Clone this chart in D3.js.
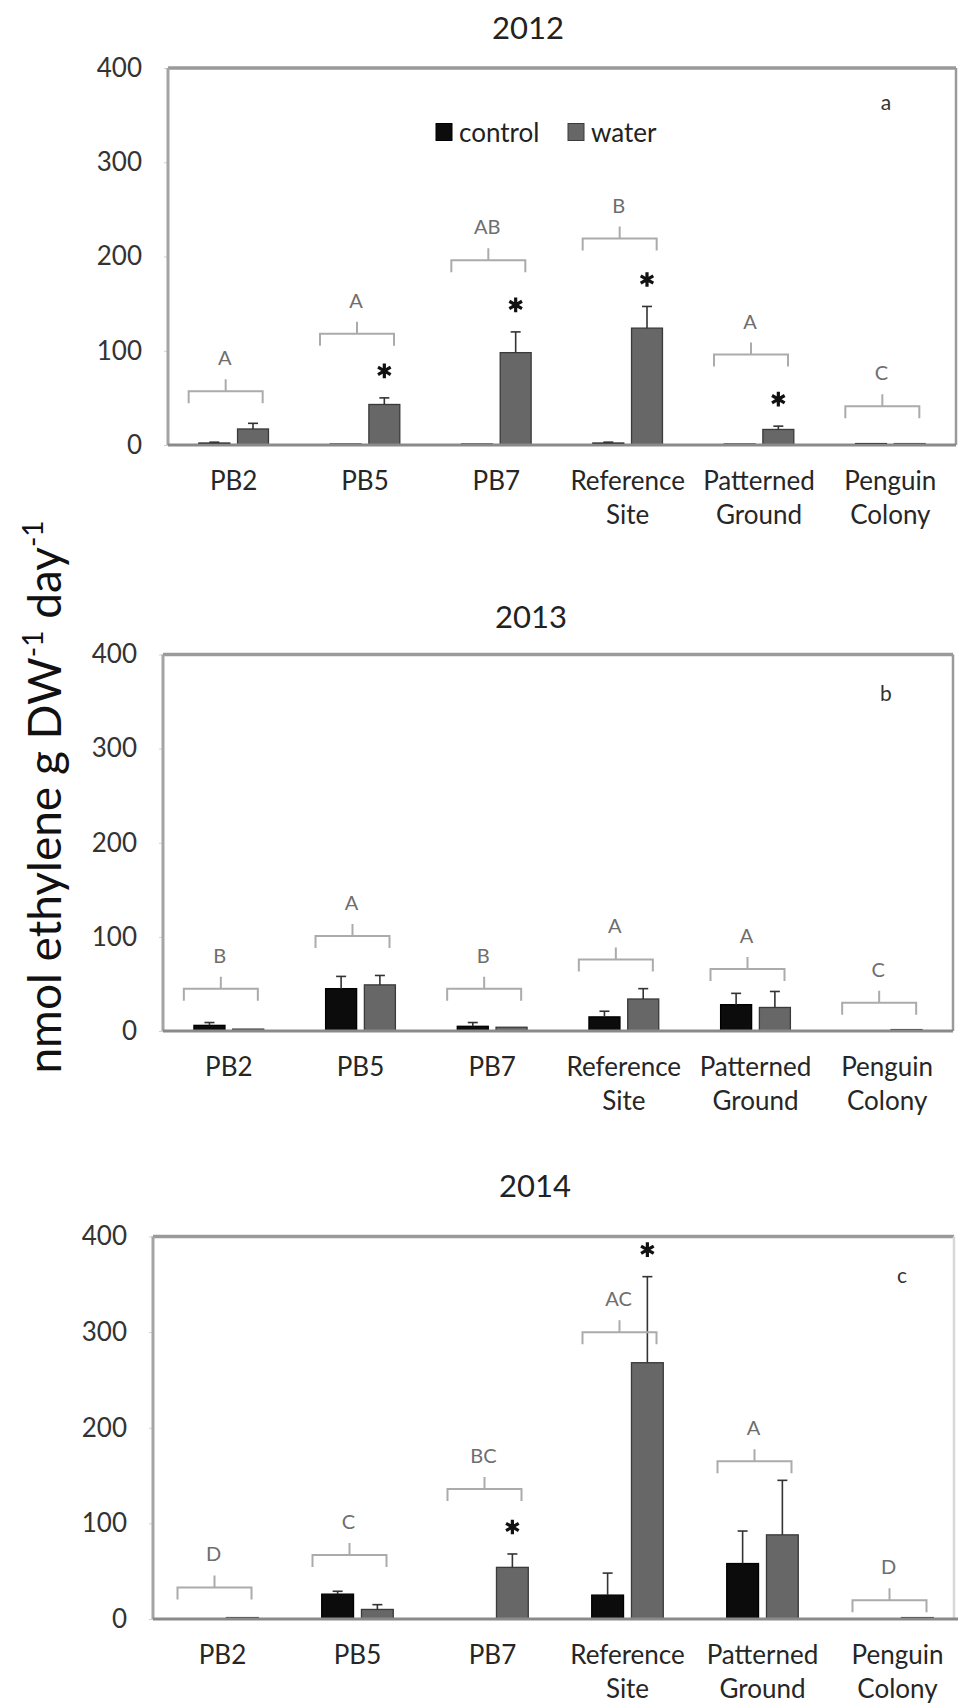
<!DOCTYPE html>
<html>
<head>
<meta charset="utf-8">
<script src="https://cdn.jsdelivr.net/npm/d3@7"></script>
<style>
  html, body { margin: 0; padding: 0; background: #fff; }
  svg { display: block; font-family: Lato, "Open Sans", sans-serif; }
</style>
</head>
<body>
<svg id="chart" width="958" height="1706"></svg>
<script>
// Nitrogenase activity (acetylene reduction), mean + SE, per site and year
const categories = ["PB2", "PB5", "PB7", "Reference Site", "Patterned Ground", "Penguin Colony"];
const series = ["control", "water"];
const years = ["2012", "2013", "2014"];
const panelTags = ["a", "b", "c"];
const yTicks = [0, 100, 200, 300, 400];

const control2012 = [2, 1, 1, 2, 1, 1.5];
const controlErr2012 = [1, 0, 0, 1, 0, 0];
const water2012 = [17, 43, 98, 124, 16.5, 1.5];
const waterErr2012 = [6, 7, 22, 23, 3.5, 0];
const letters2012 = ["A", "A", "AB", "B", "A", "C"];
const bracketLevel2012 = [57, 118, 196, 219, 96, 41];
const stars2012 = [false, true, true, true, true, false];

const control2013 = [6, 45, 5, 15, 28, 0];
const controlErr2013 = [3, 13, 4, 6, 12, 0];
const water2013 = [2, 49, 4, 34, 25, 1.5];
const waterErr2013 = [0, 10, 0, 11, 17, 0];
const letters2013 = ["B", "A", "B", "A", "A", "C"];
const bracketLevel2013 = [45, 101, 45, 76, 66, 30];
const stars2013 = [false, false, false, false, false, false];

const control2014 = [0, 26, 0, 25, 58, 0];
const controlErr2014 = [0, 3, 0, 23, 34, 0];
const water2014 = [1.5, 10, 54, 268, 88, 1.5];
const waterErr2014 = [0, 5, 14, 90, 57, 0];
const letters2014 = ["D", "C", "BC", "AC", "A", "D"];
const bracketLevel2014 = [33, 67, 136, 300, 165, 19.5];
const stars2014 = [false, false, true, true, false, false];

const panelData = [
  { control: control2012, controlErr: controlErr2012, water: water2012, waterErr: waterErr2012,
    letters: letters2012, level: bracketLevel2012, stars: stars2012 },
  { control: control2013, controlErr: controlErr2013, water: water2013, waterErr: waterErr2013,
    letters: letters2013, level: bracketLevel2013, stars: stars2013 },
  { control: control2014, controlErr: controlErr2014, water: water2014, waterErr: waterErr2014,
    letters: letters2014, level: bracketLevel2014, stars: stars2014 }
];

// Page layout of the three stacked panels
const layout = [
  { left: 168, right: 956, bandLeft: 168, bandRight: 956, top: 68,   zero: 445,  titleX: 528, titleY: 39,   tagX: 886, tagY: 105, rightStroke: "#9a9a9a" },
  { left: 163, right: 953, bandLeft: 163, bandRight: 953, top: 654.5, zero: 1031, titleX: 531, titleY: 628,  tagX: 886, tagY: 696, rightStroke: "#9a9a9a" },
  { left: 153, right: 954, bandLeft: 155, bandRight: 965, top: 1236.5, zero: 1619, titleX: 535, titleY: 1197, tagX: 902, tagY: 1278, rightStroke: "#d8d8d8" }
];

const colors = { control: "#0c0c0c", water: "#676767" };
const barStroke = { control: "#000", water: "#3a3a3a" };

const svg = d3.select("#chart");

layout.forEach((L, pi) => {
  const D = panelData[pi];
  const g = svg.append("g");

  const x = d3.scaleBand().domain(categories).range([L.bandLeft, L.bandRight]).padding(0);
  const bw = x.bandwidth();
  const xs = d3.scaleBand().domain(series)
    .range([bw * 0.235, bw * 0.765]).paddingInner(0.2).paddingOuter(0);
  const y = d3.scaleLinear().domain([0, 400]).range([L.zero, L.top]);

  // title
  g.append("text").attr("x", L.titleX).attr("y", L.titleY)
    .attr("text-anchor", "middle").attr("font-size", 31).attr("fill", "#222")
    .text(years[pi]);

  // y axis tick labels
  const yAxis = d3.axisLeft(y).tickValues(yTicks).tickSize(4).tickPadding(22);
  const ya = g.append("g").attr("transform", `translate(${L.left},0)`).call(yAxis);
  ya.select(".domain").remove();
  ya.selectAll(".tick line").attr("stroke", "#d0d0d0");
  ya.selectAll(".tick text").attr("font-size", 26).attr("fill", "#333")
    .attr("font-family", "Lato, 'Open Sans', sans-serif");

  // frame: top, left, right
  g.append("line").attr("x1", L.left).attr("x2", L.right).attr("y1", L.top).attr("y2", L.top)
    .attr("stroke", "#9a9a9a").attr("stroke-width", 3.5);
  g.append("line").attr("x1", L.left).attr("x2", L.left).attr("y1", L.top).attr("y2", L.zero)
    .attr("stroke", "#a4a4a4").attr("stroke-width", 3);
  g.append("line").attr("x1", L.right).attr("x2", L.right).attr("y1", L.top).attr("y2", L.zero)
    .attr("stroke", L.rightStroke).attr("stroke-width", 2.5);

  // bars
  const rows = categories.map((c, i) => ({
    cat: c,
    vals: series.map(s => ({ s, v: D[s][i], e: D[s + "Err"][i] }))
  }));
  const grp = g.selectAll("g.cat").data(rows).join("g")
    .attr("class", "cat").attr("transform", d => `translate(${x(d.cat)},0)`);

  grp.selectAll("rect").data(d => d.vals.filter(o => o.v > 0)).join("rect")
    .attr("x", o => xs(o.s)).attr("width", xs.bandwidth())
    .attr("y", o => y(o.v)).attr("height", o => y(0) - y(o.v))
    .attr("fill", o => colors[o.s]).attr("stroke", o => barStroke[o.s]).attr("stroke-width", 1.3);

  // upper error bars
  const eb = grp.selectAll("g.err").data(d => d.vals.filter(o => o.e > 0)).join("g").attr("class", "err");
  eb.append("line")
    .attr("x1", o => xs(o.s) + xs.bandwidth() / 2).attr("x2", o => xs(o.s) + xs.bandwidth() / 2)
    .attr("y1", o => y(o.v)).attr("y2", o => y(o.v + o.e))
    .attr("stroke", "#333").attr("stroke-width", 1.6);
  eb.append("line")
    .attr("x1", o => xs(o.s) + xs.bandwidth() / 2 - 5).attr("x2", o => xs(o.s) + xs.bandwidth() / 2 + 5)
    .attr("y1", o => y(o.v + o.e)).attr("y2", o => y(o.v + o.e))
    .attr("stroke", "#333").attr("stroke-width", 1.6);

  // x axis baseline
  g.append("line").attr("x1", L.left).attr("x2", Math.max(L.right, L.bandRight)).attr("y1", L.zero).attr("y2", L.zero)
    .attr("stroke", "#8a8a8a").attr("stroke-width", 3);

  // significance stars over the water bars
  const star = d3.symbol().type(d3.symbolAsterisk).size(150);
  categories.forEach((c, i) => {
    if (!D.stars[i]) return;
    const cx = x(c) + xs("water") + xs.bandwidth() / 2;
    const cy = y(D.water[i] + D.waterErr[i]) - 27;
    g.append("path").attr("d", star()).attr("transform", `translate(${cx},${cy})`)
      .attr("stroke", "#111").attr("stroke-width", 3.2).attr("fill", "none");
  });

  // group letters with brackets
  categories.forEach((c, i) => {
    const cx = x(c) + bw / 2 - 8;
    const by = y(D.level[i]);
    const half = 37;
    g.append("path")
      .attr("d", `M${cx - half},${by + 12}V${by}H${cx + half}V${by + 12}M${cx},${by}V${by - 12}`)
      .attr("fill", "none").attr("stroke", "#ababab").attr("stroke-width", 2);
    g.append("text").attr("x", cx - 1).attr("y", by - 26)
      .attr("text-anchor", "middle").attr("font-size", 20).attr("fill", "#6e6e6e")
      .text(D.letters[i]);
  });

  // category labels (two lines where the name has two words)
  categories.forEach(c => {
    const t = g.append("text").attr("text-anchor", "middle").attr("font-size", 26).attr("fill", "#262626");
    c.split(" ").forEach((w, k) => {
      t.append("tspan").attr("x", x(c) + bw / 2).attr("y", L.zero + 45 + k * 34).text(w);
    });
  });

  // panel tag
  g.append("text").attr("x", L.tagX).attr("y", L.tagY).attr("text-anchor", "middle")
    .attr("dominant-baseline", "middle").attr("font-size", 21).attr("fill", "#333")
    .text(panelTags[pi]);

  // legend in the first panel
  if (pi === 0) {
    const leg = g.append("g").attr("transform", "translate(436,132)");
    const items = [{ s: "control", dx: 0 }, { s: "water", dx: 132 }];
    items.forEach(it => {
      leg.append("rect").attr("x", it.dx).attr("y", -8.5).attr("width", 16).attr("height", 17)
        .attr("fill", colors[it.s]).attr("stroke", barStroke[it.s]).attr("stroke-width", 1);
      leg.append("text").attr("x", it.dx + 23).attr("y", 0).attr("dominant-baseline", "central")
        .attr("font-size", 26).attr("fill", "#222").text(it.s);
    });
  }
});

// shared y-axis title
const yt = svg.append("text")
  .attr("transform", "translate(61,797) rotate(-90)")
  .attr("text-anchor", "middle").attr("font-size", 46).attr("fill", "#111");
yt.append("tspan").text("nmol ethylene g DW");
yt.append("tspan").attr("font-size", 28).attr("dy", -18).text("-1");
yt.append("tspan").attr("dy", 18).text(" day");
yt.append("tspan").attr("font-size", 28).attr("dy", -18).text("-1");
</script>
</body>
</html>
